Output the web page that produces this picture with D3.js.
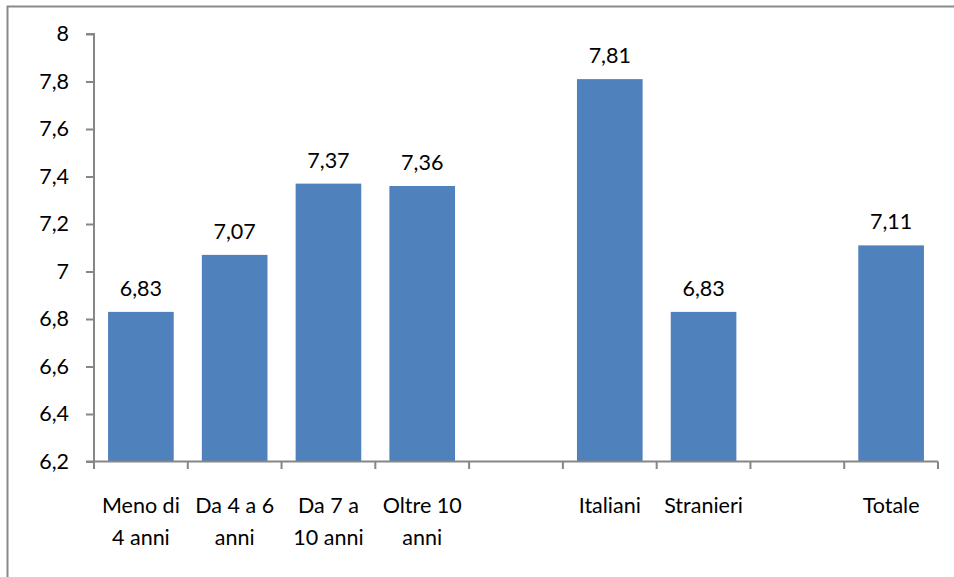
<!DOCTYPE html>
<html><head><meta charset="utf-8">
<script src="https://cdn.jsdelivr.net/npm/d3@7"></script>
<style>html,body{margin:0;padding:0;background:#fff;}svg{display:block;}</style>
</head><body>
<svg id="c" width="954" height="577"></svg>
<script>
const categories = ["Meno di 4 anni", "Da 4 a 6 anni", "Da 7 a 10 anni", "Oltre 10 anni", "gap1", "Italiani", "Stranieri", "gap2", "Totale"];
const labelLines = [["Meno di", "4 anni"], ["Da 4 a 6", "anni"], ["Da 7 a", "10 anni"], ["Oltre 10", "anni"], [], ["Italiani"], ["Stranieri"], [], ["Totale"]];
const values = [6.83, 7.07, 7.37, 7.36, null, 7.81, 6.83, null, 7.11];
const yTicks = [6.2, 6.4, 6.6, 6.8, 7, 7.2, 7.4, 7.6, 7.8, 8];

const svg = d3.select("#c");
const font = "Lato, 'Open Sans', sans-serif";
const fs = 21.5;

// frame
svg.append("path").attr("d", "M7.5,577 V6.5 H954").attr("fill", "none").attr("stroke", "#8a8a8a").attr("stroke-width", 2);

const x = d3.scaleBand().domain(categories).range([94, 938]).paddingInner(0.3).paddingOuter(0.15);
const y = d3.scaleLinear().domain([6.2, 8]).range([461.5, 34]);

const data = categories.map((c, i) => ({c, v: values[i], lines: labelLines[i]}));

// bars
svg.selectAll("rect.bar").data(data.filter(d => d.v != null)).join("rect")
  .attr("class", "bar")
  .attr("x", d => x(d.c)).attr("width", x.bandwidth())
  .attr("y", d => y(d.v)).attr("height", d => y(6.2) - y(d.v))
  .attr("fill", "#4F81BD");

// value labels
svg.selectAll("text.val").data(data.filter(d => d.v != null)).join("text")
  .attr("class", "val")
  .attr("x", d => x(d.c) + x.bandwidth() / 2)
  .attr("y", d => y(d.v) - 16)
  .attr("text-anchor", "middle")
  .attr("font-family", font).attr("font-size", fs).attr("fill", "#000")
  .text(d => d3.format(".2f")(d.v).replace(".", ","));

// y axis
const yAxis = d3.axisLeft(y).tickValues(yTicks).tickSize(8).tickPadding(17)
  .tickFormat(d => String(+d.toFixed(1)).replace(".", ","));
const gy = svg.append("g").attr("transform", "translate(94,0)").call(yAxis);
gy.select(".domain").attr("stroke", "#868686").attr("stroke-width", 2).attr("d", "M-8,34H0V461.5H-8");
gy.selectAll(".tick line").attr("stroke", "#868686").attr("stroke-width", 2);
gy.selectAll(".tick text").attr("font-family", font).attr("font-size", fs).attr("fill", "#000");

// x axis line and ticks at band boundaries
const bounds = d3.range(categories.length + 1).map(i => 94 + i * (844 / categories.length));
svg.append("line").attr("x1", 94).attr("x2", 938).attr("y1", 461.5).attr("y2", 461.5)
  .attr("stroke", "#868686").attr("stroke-width", 2);
svg.selectAll("line.xt").data(bounds).join("line").attr("class", "xt")
  .attr("x1", d => d).attr("x2", d => d).attr("y1", 461.5).attr("y2", 469)
  .attr("stroke", "#868686").attr("stroke-width", 2);

// x labels
const xl = svg.selectAll("text.xl").data(data).join("text")
  .attr("class", "xl")
  .attr("x", d => x(d.c) + x.bandwidth() / 2)
  .attr("y", 513)
  .attr("text-anchor", "middle")
  .attr("font-family", font).attr("font-size", fs).attr("fill", "#000");
xl.selectAll("tspan").data(d => d.lines.map(t => ({t, x: x(d.c) + x.bandwidth() / 2}))).join("tspan")
  .attr("x", d => d.x).attr("dy", (d, i) => i === 0 ? 0 : 32).text(d => d.t);
</script>
</body></html>
